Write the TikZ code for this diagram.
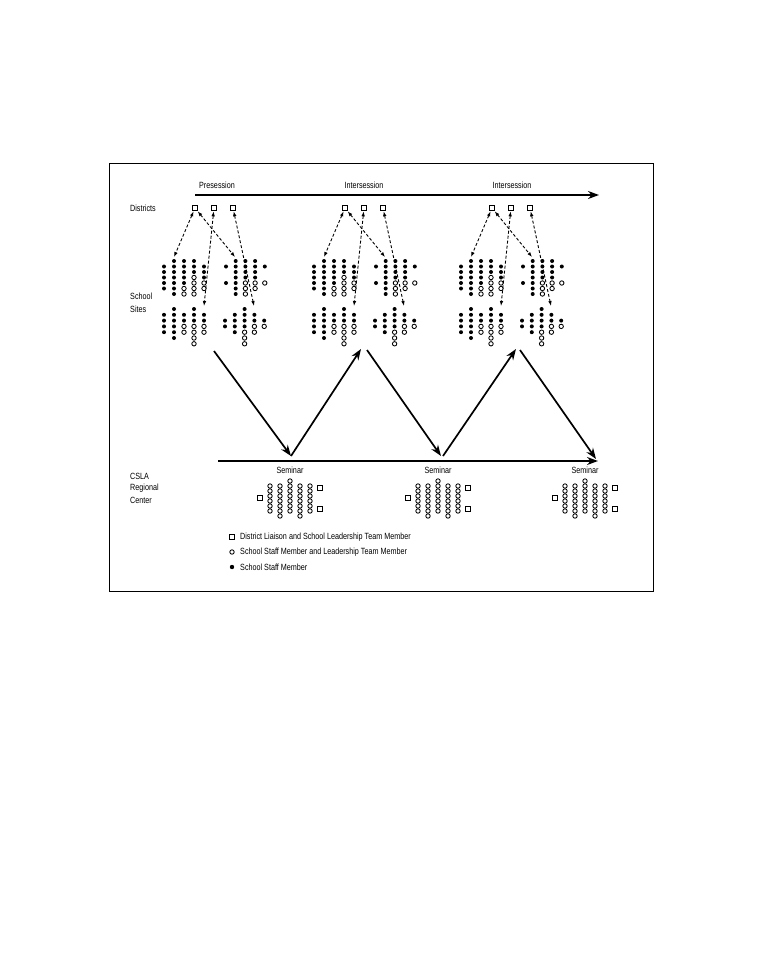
\documentclass[tikz,border=0pt]{standalone}
\usepackage{fontspec}
\setmainfont[FakeStretch=0.8]{Liberation Sans}
\usetikzlibrary{arrows.meta}
\newcommand\sitecluster[6]{%
  \foreach \cc/\rr in {#5} {\fill (#1+\cc*#3, #2+\rr*#4) circle (2.0pt);}
  \foreach \cc/\rr in {#6} {\draw[odot] (#1+\cc*#3, #2+\rr*#4) circle (2.2pt);}
}
\begin{document}
\begin{tikzpicture}[x=1pt,y=-1pt,
  lbl/.style={font=\fontsize{9}{10.5}\selectfont, inner sep=0pt},
  odot/.style={draw=black, line width=0.85pt, fill=white},
  sq/.style={draw, line width=1.1pt, minimum size=5.5pt, inner sep=0pt, fill=white},
  dasharrow/.style={dash pattern=on 3pt off 2pt, line width=0.9pt, {Latex[length=5pt,width=3.6pt]}-{Latex[length=5pt,width=3.6pt]}},
  bigarrow/.style={line width=1.7pt, -{Stealth[length=11pt,width=8pt]}},
]
\useasboundingbox (0,0) rectangle (756,972);
\draw[line width=1pt] (109,163) rectangle (653,591);

% top timeline
\coordinate (tl0) at (195,195);
\coordinate (tl1) at (599,195);
\draw[bigarrow] (tl0) -- (tl1);
\node[lbl] (pre) at (217,185) {Presession};
\node[lbl] (int1) at (364,185) {Intersession};
\node[lbl] (int2) at (512,185) {Intersession};

% left labels
\node[lbl, anchor=west] (dis) at (130,208) {Districts};
\node[lbl, anchor=west] (ss1) at (130,296) {School};
\node[lbl, anchor=west] (ss2) at (130,309) {Sites};
\node[lbl, anchor=west] (cs1) at (130,476) {CSLA};
\node[lbl, anchor=west] (cs2) at (130,488) {Regional};
\node[lbl, anchor=west] (cs3) at (130,500) {Center};

% district groups
\foreach \gx/\gi in {195/1,345/2,492/3} {
  \node[sq] (s\gi a) at (\gx,208) {};
  \node[sq] (s\gi b) at (\gx+19,208) {};
  \node[sq] (s\gi c) at (\gx+38,208) {};
  % UL
  \sitecluster{\gx-31}{261}{10}{5.5}%
    {0/1,0/2,0/3,0/4,0/5, 1/0,1/1,1/2,1/3,1/4,1/5,1/6, 2/0,2/1,2/2,2/3,2/4, 3/0,3/1,3/2, 4/1,4/2,4/3}%
    {2/5,2/6, 3/3,3/4,3/5,3/6, 4/4,4/5}
  % UR
  \sitecluster{\gx+31}{261}{9.7}{5.5}%
    {0/1,0/4, 1/0,1/1,1/2,1/3,1/4,1/5,1/6, 2/0,2/1,2/2,2/3, 3/0,3/1,3/2,3/3, 4/1}%
    {2/4,2/5,2/6, 3/4,3/5, 4/4}
  % LL
  \sitecluster{\gx-31}{309}{10}{5.8}%
    {0/1,0/2,0/3,0/4, 1/0,1/1,1/2,1/3,1/4,1/5, 2/1,2/2, 3/0,3/1,3/2, 4/1,4/2}%
    {2/3,2/4, 3/3,3/4,3/5,3/6, 4/3,4/4}
  % LR
  \sitecluster{\gx+30}{309}{9.8}{5.8}%
    {0/2,0/3, 1/1,1/2,1/3,1/4, 2/0,2/1,2/2,2/3, 3/1,3/2, 4/2}%
    {2/4,2/5,2/6, 3/3,3/4, 4/3}
  \coordinate (u\gi a) at (\gx-21,257);
  \coordinate (u\gi b) at (\gx+40,257);
  \coordinate (l\gi a) at (\gx+9,306);
  \coordinate (l\gi b) at (\gx+59,306);
  \draw[dasharrow] (s\gi a) -- (u\gi a);
  \draw[dasharrow] (s\gi a) -- (u\gi b);
  \draw[dasharrow] (s\gi b) -- (l\gi a);
  \draw[dasharrow] (s\gi c) -- (l\gi b);
}

% bottom timeline
\coordinate (bl0) at (218,461);
\coordinate (bl1) at (598,461);
\draw[bigarrow] (bl0) -- (bl1);

% zigzag
\coordinate (z1) at (214,351);
\coordinate (z2) at (291,456);
\coordinate (z3) at (361,349);
\coordinate (z4) at (367,350);
\coordinate (z5) at (441,456);
\coordinate (z6) at (443,456);
\coordinate (z7) at (516,349);
\coordinate (z8) at (520,350);
\coordinate (z9) at (596,459);
\draw[bigarrow] (z1) -- (z2);
\draw[bigarrow] (z2) -- (z3);
\draw[bigarrow] (z4) -- (z5);
\draw[bigarrow] (z6) -- (z7);
\draw[bigarrow] (z8) -- (z9);

% seminars
\foreach \cx/\si in {290/1,438/2,585/3} {
  \node[lbl] (sem\si) at (\cx,470) {Seminar};
  \foreach \cc in {0,...,4} {
    \foreach \rr in {1,...,6} {\draw[odot] (\cx-20+\cc*10, 481+\rr*5) circle (2.2pt);}
  }
  \draw[odot] (\cx, 481) circle (2.2pt);
  \draw[odot] (\cx-10, 516) circle (2.2pt);
  \draw[odot] (\cx+10, 516) circle (2.2pt);
  \node[sq] (q\si a) at (\cx-30,498) {};
  \node[sq] (q\si b) at (\cx+30,488) {};
  \node[sq] (q\si c) at (\cx+30,509) {};
}

% legend
\node[sq] (lsq) at (232,537) {};
\node[circle, draw, line width=0.85pt, minimum size=4.4pt, inner sep=0pt] (lo) at (232,552) {};
\node[circle, fill, minimum size=4.4pt, inner sep=0pt] (lf) at (232,567) {};
\node[lbl, anchor=west] (lt1) at (240,537) {District Liaison and School Leadership Team Member};
\node[lbl, anchor=west] (lt2) at (240,552) {School Staff Member and Leadership Team Member};
\node[lbl, anchor=west] (lt3) at (240,567) {School Staff Member};
\end{tikzpicture}
\end{document}
